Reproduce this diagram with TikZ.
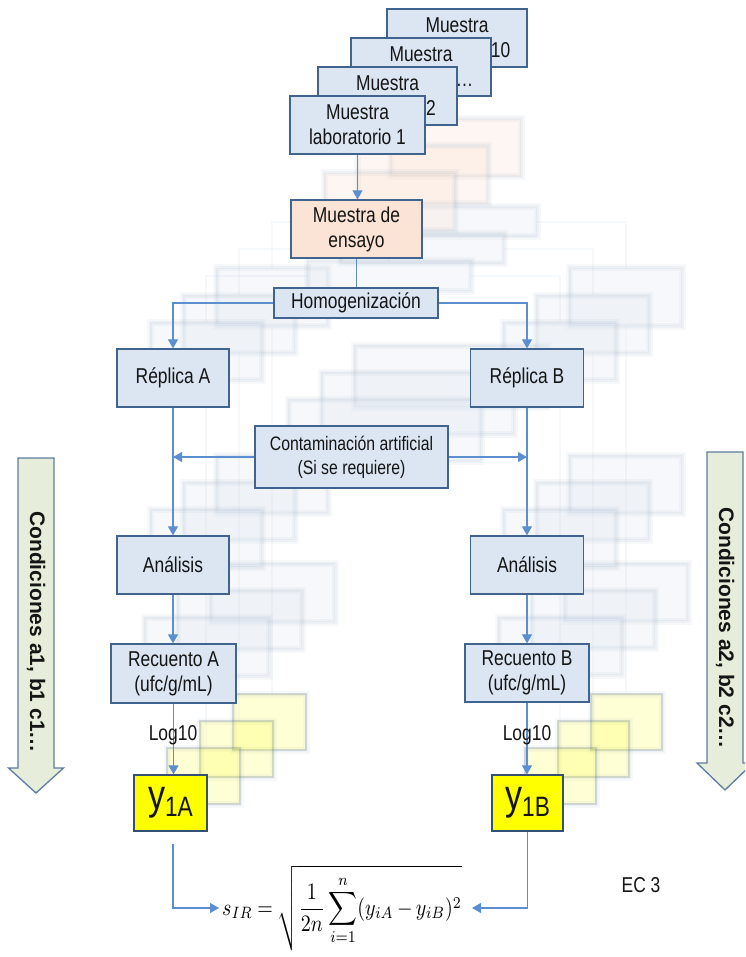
\documentclass[tikz,border=0pt]{standalone}
\usepackage[no-math]{fontspec}
\setmainfont{Liberation Sans}
\newfontfamily\narrowfont{Liberation Sans}[FakeStretch=0.81]
\usepackage{graphicx}
\usetikzlibrary{arrows.meta,calc}

\definecolor{boxfill}{HTML}{DCE6F2}
\definecolor{boxline}{HTML}{41648E}
\definecolor{peach}{HTML}{FBE4D5}
\definecolor{link}{HTML}{5B8FCF}
\definecolor{condfill}{HTML}{E6EEDB}
\definecolor{condline}{HTML}{5D7CA3}
\definecolor{ybox}{HTML}{FFFF00}
\definecolor{ink}{HTML}{151515}

% faint, softened copy of the flow boxes for the other laboratories
\newcommand{\labcopy}[2]{%
  \begin{scope}[shift={(#1,#2)}]
    \foreach \l/\t/\r/\b/\c/\o in {291/200/422/258/peach/0.30, 274/288/438/318/boxfill/0.25,
        117/349/229/407/boxfill/0.25, 470/349/583/407/boxfill/0.25, 255/426/448/488/boxfill/0.25,
        117/536/229/594/boxfill/0.25, 470/536/583/594/boxfill/0.25, 111/644/236/703/boxfill/0.25,
        465/644/589/702/boxfill/0.25, 134/775/207/831/ybox/0.16, 492/775/563/831/ybox/0.16}{
      \fill[\c, opacity=\o] (\l,\t) rectangle (\r,\b);
      \draw[boxline, opacity=0.04, line width=7pt] (\l,\t) rectangle (\r,\b);
      \draw[boxline, opacity=0.05, line width=3pt] (\l,\t) rectangle (\r,\b);
    }
    \draw[link, opacity=0.05, line width=1.5pt]
      (356,258) -- (356,288) (274,303) -| (173,349) (438,303) -| (527,349)
      (173,407) -- (173,775) (527,407) -- (527,775);
  \end{scope}}

\begin{document}
\begin{tikzpicture}[x=1pt,y=-1pt,
  box/.style={draw=boxline, line width=1.3pt, fill=boxfill, align=center,
    inner sep=0pt, text=ink, font=\narrowfont\fontsize{21.5}{25}\selectfont},
  smallbox/.style={box, font=\narrowfont\fontsize{19.5}{24}\selectfont},
  ybox/.style={box, fill=ybox, draw=boxline!80!black},
  plain/.style={inner sep=0pt, text=ink, font=\narrowfont\fontsize{21.5}{25}\selectfont},
  link/.style={draw=link, line width=1.1pt},
  arr/.style={link, -{Triangle[length=9pt,width=10pt]}},
  cond/.style={fill=condfill, draw=condline, line width=1.3pt, line join=miter},
  condtext/.style={inner sep=0pt, text=ink, font=\bfseries\fontsize{21}{21}\selectfont}
]
\useasboundingbox (0,0) rectangle (745,957);
\clip (0,0) rectangle (745,957);
\fill[white] (0,0) rectangle (745,957);

% blurred copies behind the main flow
\labcopy{99}{-81}
\labcopy{66}{-54}
\labcopy{33}{-27}

% stack of laboratory samples
\node[box, minimum width=140, minimum height=58] (m4) at (457,38)
  {Muestra\\\phantom{laboratorio }10};
\node[box, minimum width=140, minimum height=58] (m3) at (421,67)
  {Muestra\\\phantom{laboratorio }…};
\node[box, minimum width=139, minimum height=58] (m2) at (387.5,96)
  {Muestra\\\phantom{laboratorio }2};
\node[box, minimum width=135, minimum height=58] (m1) at (357.5,125)
  {Muestra\\laboratorio 1};

% main flow
\node[box, fill=peach, minimum width=131, minimum height=58] (ens) at (356.5,229)
  {Muestra de\\ensayo};
\node[box, minimum width=164, minimum height=30] (hom) at (356,303) {Homogenización};
\node[box, minimum width=112, minimum height=58] (repA) at (173,378) {Réplica A};
\node[box, minimum width=113, minimum height=58] (repB) at (527,378) {Réplica B};
\node[smallbox, minimum width=193, minimum height=62] (con) at (351.5,457)
  {Contaminación artificial\\(Si se requiere)};
\node[box, minimum width=112, minimum height=58] (anaA) at (173,565) {Análisis};
\node[box, minimum width=113, minimum height=58] (anaB) at (527,565) {Análisis};
\node[box, minimum width=125, minimum height=59] (recA) at (173.5,673.5)
  {Recuento A\\(ufc/g/mL)};
\node[box, minimum width=124, minimum height=58] (recB) at (527,673)
  {Recuento B\\(ufc/g/mL)};
\node[ybox, minimum width=73, minimum height=56] (yA) at (170.5,803)
  {{\fontsize{42}{42}\selectfont y}{\fontsize{28}{28}\selectfont\raisebox{-7pt}{1A}}};
\node[ybox, minimum width=71, minimum height=56] (yB) at (527.5,803)
  {{\fontsize{42}{42}\selectfont y}{\fontsize{28}{28}\selectfont\raisebox{-7pt}{1B}}};

% connectors
\draw[arr] (m1.south) -- (m1.south |- ens.north);
\draw[link] (ens.south) -- (ens.south |- hom.north);
\draw[arr] (hom.west) -| (repA.north);
\draw[arr] (hom.east) -| (repB.north);
\draw[arr] (con.west) -- (con.west -| repA.south);
\draw[arr] (con.east) -- (con.east -| repB.south);
\draw[arr] (repA.south) -- (anaA.north);
\draw[arr] (repB.south) -- (anaB.north);
\draw[arr] (anaA.south) -- (anaA.south |- recA.north);
\draw[arr] (anaB.south) -- (recB.north);
\draw[arr] (recA.south) -- (recA.south |- yA.north);
\draw[arr] (recB.south) -- (recB.south |- yB.north);
\node[plain] (logA) at (173,735) {Log10};
\node[plain] (logB) at (527,735) {Log10};

% standard deviation formula
\node[inner sep=0pt, anchor=base west] (sir) at (222,915)
  {\thickmuskip=4mu\medmuskip=3mu\scalebox{2.0}[2.35]{$\displaystyle s_{IR} = \sqrt{\frac{1}{2n}\sum_{i=1}^{n}(y_{iA}-y_{iB})^2}$}};
\coordinate (inA) at (219,908);
\coordinate (inB) at (472,908);
\coordinate (outA) at (173,844);
\draw[arr] (outA) |- (inA);
\draw[arr] (yB.south) |- (inB);
\node[plain] (ec) at (641,885) {EC 3};

% direction of the test conditions
\draw[cond] (18,458) -- (54,458) -- (54,768) -- (63.5,768) -- (36,793)
  -- (8.5,768) -- (18,768) -- cycle;
\node[condtext, rotate=-90] (condA) at (36,632) {Condiciones a1, b1 c1…};
\draw[cond] (707,452) -- (743,452) -- (743,763) -- (753,763) -- (725,790)
  -- (697,763) -- (707,763) -- cycle;
\node[condtext, rotate=-90] (condB) at (725,628) {Condiciones a2, b2 c2…};
\end{tikzpicture}
\end{document}
